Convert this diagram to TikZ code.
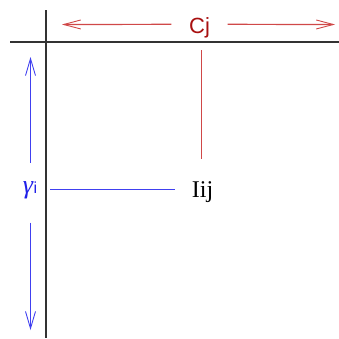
\documentclass[tikz,border=0pt]{standalone}
\usepackage{fontspec}
\setsansfont{Liberation Sans}
\setmainfont{Liberation Serif}
\usetikzlibrary{arrows.meta, positioning}

\definecolor{cjred}{HTML}{A81010}
\definecolor{linered}{HTML}{D04848}
\definecolor{gblue}{HTML}{2020E8}
\definecolor{lineblue}{HTML}{4040F0}

\begin{document}
\begin{tikzpicture}[
    x=1pt, y=-1pt,
    % Styles
    axis/.style = {line width=2.2pt, draw=black!80},
    redline/.style = {line width=1.2pt, draw=linered},
    blueline/.style = {line width=1.2pt, draw=lineblue},
    redarrow/.style = {redline, -{Straight Barb[length=17pt, width=9pt, line width=0.9pt]}},
    bluearrow/.style = {blueline, -{Straight Barb[length=17pt, width=10pt, line width=0.9pt]}}
]
\useasboundingbox (0,0) rectangle (339,338);

% --- AXES ---
\draw[axis] (10,42) -- (339,42);
\draw[axis] (46,10) -- (46,338);

% --- LABELS ---
\node[anchor=base, font=\sffamily\fontsize{22}{22}\selectfont, text=cjred, inner xsep=17.5pt] (cj) at (199.5,33) {Cj};
\node[anchor=base, font=\rmfamily\fontsize{24}{24}\selectfont] (iij) at (202.5,197) {Iij};
\node[anchor=base, text=gblue, font=\rmfamily\fontsize{26}{26}\selectfont, inner sep=1pt] (gamma) at (30,193)
    {\textit{γ}\textsf{\fontsize{16}{16}\selectfont i}};

\coordinate (cjleft) at (62,24.5);
\coordinate (cjright) at (335,24.5);
\coordinate (cjfoot) at (201.5,50);
\coordinate (gtop) at (30.5,57);
\coordinate (gbot) at (30.5,330);

% --- CONNECTORS ---
\draw[redarrow] ([yshift=3pt]cj.west) -- (cjleft);
\draw[redarrow] ([yshift=3pt]cj.east) -- (cjright);
\draw[redline] (cjfoot) -- ([yshift=19pt]cjfoot |- iij.north);
\draw[bluearrow, shorten <=17pt] (gamma.north -| gtop) -- (gtop);
\draw[bluearrow, shorten <=23pt] (gamma.south -| gbot) -- (gbot);
\draw[blueline] ([xshift=12pt]gamma.east) -- ([xshift=-13.5pt]gamma.east -| iij.west);

\end{tikzpicture}
\end{document}
